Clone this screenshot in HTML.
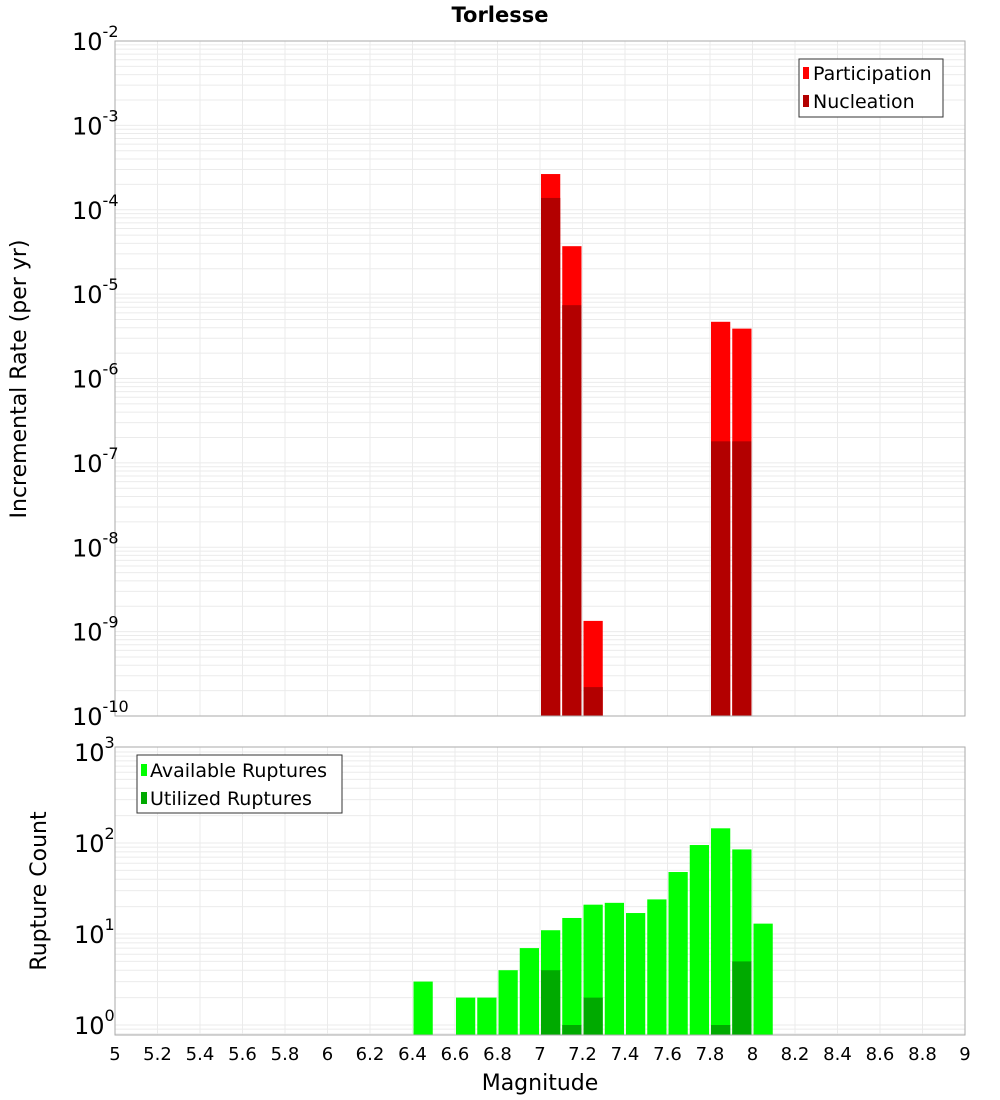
<!DOCTYPE html>
<html><head><meta charset="utf-8"><style>
html,body{margin:0;padding:0;background:#fff;}
svg{display:block;font-family:"DejaVu Sans","Liberation Sans",sans-serif;}
</style></head><body>
<svg id="chart" width="1000" height="1100" xmlns="http://www.w3.org/2000/svg">
<text x="500" y="22" text-anchor="middle" font-size="21" font-weight="bold">Torlesse</text>
<g id="topPanel"></g>
<g id="botPanel"></g>
<text transform="translate(26,379) rotate(-90)" text-anchor="middle" font-size="22">Incremental Rate (per yr)</text>
<text transform="translate(46,891) rotate(-90)" text-anchor="middle" font-size="22">Rupture Count</text>
<text x="540" y="1090" text-anchor="middle" font-size="22">Magnitude</text>
<g>
<rect x="799" y="59" width="144" height="58" fill="#fff" stroke="#333" stroke-width="1"/>
<rect x="803" y="67" width="6" height="12" fill="#ff0000"/>
<text x="813" y="80" font-size="19">Participation</text>
<rect x="803" y="95" width="6" height="12" fill="#b30000"/>
<text x="813" y="108" font-size="19">Nucleation</text>
</g>
<g>
<rect x="137" y="755" width="205" height="58" fill="#fff" stroke="#333" stroke-width="1"/>
<rect x="141" y="764" width="6" height="12" fill="#00ff00"/>
<text x="150" y="777" font-size="19">Available Ruptures</text>
<rect x="141" y="792" width="6" height="12" fill="#00aa00"/>
<text x="150" y="805" font-size="19">Utilized Ruptures</text>
</g>
</svg>
<script>
const xTicks=[5,5.2,5.4,5.6,5.8,6,6.2,6.4,6.6,6.8,7,7.2,7.4,7.6,7.8,8,8.2,8.4,8.6,8.8,9];
const rateMags=[7.05,7.15,7.25,7.85,7.95];
const participation=[2.65e-4,3.7e-5,1.34e-9,4.7e-6,3.9e-6];
const nucleation=[1.38e-4,7.4e-6,2.2e-10,1.8e-7,1.8e-7];
const rateExps=[-2,-3,-4,-5,-6,-7,-8,-9,-10];
const countMags=[6.45,6.65,6.75,6.85,6.95,7.05,7.15,7.25,7.35,7.45,7.55,7.65,7.75,7.85,7.95,8.05];
const available=[3,2,2,4,7,11,15,21,22,17,24,48,95,145,85,13];
const utilizedMags=[7.05,7.15,7.25,7.85,7.95];
const utilized=[4,1,2,1,5];
const countExps=[0,1,2,3];

const NS="http://www.w3.org/2000/svg";
const X0=115,X1=965;
const xs=m=>X0+(m-5)/4*(X1-X0);
const T0=41,T1=716;
const yT=v=>T0+(-2-Math.log10(v))*(T1-T0)/8;
const B0=747,B1=1035;
const yB=v=>1025-Math.log10(v)*91;
function mk(tag,attrs,parent){const e=document.createElementNS(NS,tag);for(const k in attrs)e.setAttribute(k,attrs[k]);parent.appendChild(e);return e;}
const topG=document.getElementById('topPanel'),botG=document.getElementById('botPanel');
function grid(g,y0,y1,yf,decs){
  for(const d of decs){for(let k=1;k<10;k++){const y=yf(k*Math.pow(10,d));if(y<y0||y>y1)continue;
    const l=mk('line',{x1:X0,x2:X1,y1:y,y2:y,stroke:'#ebebeb','stroke-width':1},g);
    
    }}
  for(const t of xTicks){const x=xs(t);
    const l=mk('line',{x1:x,x2:x,y1:y0,y2:y1,stroke:'#ebebeb','stroke-width':1},g);
    
    }
}
grid(topG,T0,T1,yT,[-10,-9,-8,-7,-6,-5,-4,-3,-2]);
grid(botG,B0,B1,yB,[-1,0,1,2,3]);
function bar(g,m,v,yf,ybot,fill,name){const x=xs(m-0.05)+1,w=xs(m+0.05)-xs(m-0.05)-2,y=Math.max(yf(v),0);
  const r=mk('rect',{x:x,y:y,width:w,height:Math.max(ybot-y,0),fill:fill},g);
  
  }
rateMags.forEach((m,i)=>bar(topG,m,participation[i],yT,T1,'#ff0000','bar-participation'));
rateMags.forEach((m,i)=>bar(topG,m,nucleation[i],yT,T1,'#b30000','bar-nucleation'));
countMags.forEach((m,i)=>bar(botG,m,available[i],yB,B1,'#00ff00','bar-available'));
utilizedMags.forEach((m,i)=>bar(botG,m,utilized[i],yB,B1,'#00aa00','bar-utilized'));
for(const [g,y0,y1] of [[topG,T0,T1],[botG,B0,B1]]){
  const f=mk('rect',{x:X0,y:y0,width:X1-X0,height:y1-y0,fill:'none',stroke:'#aaa','stroke-width':1},g);
  
  }
function ylab(g,y,e,name){const t=mk('text',{x:(e<0?72:74),y:y+9,'font-size':24},g);
  
  
  t.textContent='10';
  const s=mk('tspan',{dy:-13,'font-size':16},t);s.textContent=String(e);}
rateExps.forEach(e=>ylab(topG,yT(Math.pow(10,e)),e,'y-tick-label-rate'));
countExps.forEach(e=>ylab(botG,yB(Math.pow(10,e)),e,'y-tick-label-count'));
xTicks.forEach(t=>{const l=mk('text',{x:xs(t),y:1060,'text-anchor':'middle','font-size':18},botG);
  
  
  l.textContent=String(t);});
</script>
</body></html>
